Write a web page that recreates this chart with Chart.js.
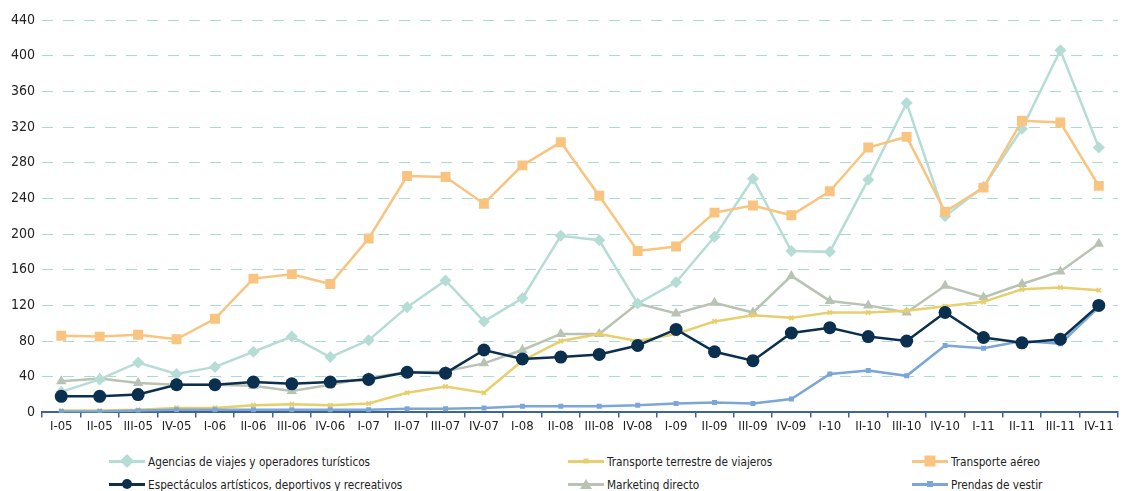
<!DOCTYPE html>
<html>
<head>
<meta charset="utf-8">
<script src="https://cdn.jsdelivr.net/npm/chart.js@4.4.0/dist/chart.umd.min.js"></script>
<style>
  body { margin: 0; background: #fff; font-family: "DejaVu Sans Condensed", sans-serif; }
  #wrap { position: relative; width: 1125px; height: 435px; }
  #legend { position: absolute; left: 0; top: 448px; width: 1125px; height: 43px; }
  .item { position: absolute; font-size: 13px; color: #222; white-space: nowrap; display: flex; align-items: center; height: 18px; }
  .item .tx { display: inline-block; transform: scaleX(0.9); transform-origin: left center; }
  .key { position: relative; width: 36px; height: 18px; margin-right: 3px; }
  .key .ln { position: absolute; left: 0; right: 0; top: 8px; height: 3px; }
  .key .mk { position: absolute; left: 50%; top: 50%; transform: translate(-50%, -50%); }
</style>
</head>
<body>
<div id="wrap"><canvas id="chart"></canvas></div>
<div id="legend"></div>
<script>
var trimestres = ["I-05","II-05","III-05","IV-05","I-06","II-06","III-06","IV-06","I-07","II-07","III-07","IV-07",
    "I-08","II-08","III-08","IV-08","I-09","II-09","III-09","IV-09","I-10","II-10","III-10","IV-10","I-11","II-11","III-11","IV-11"];

var agencias = [23, 37, 56, 43, 51, 68, 85, 62, 81, 118, 148, 102, 128, 198, 193, 122, 146, 197, 262, 181, 180, 261, 347, 220, 253, 318, 406, 297];
var terrestre = [2, 2, 3, 5, 5, 8, 9, 8, 10, 22, 29, 22, 58, 80, 88, 80, 88, 102, 109, 106, 112, 112, 114, 119, 124, 138, 140, 137];
var aereo = [86, 85, 87, 82, 105, 150, 155, 144, 195, 265, 264, 234, 277, 303, 243, 181, 186, 224, 232, 221, 248, 297, 309, 225, 252, 327, 325, 254];
var espectaculos = [18, 18, 20, 31, 31, 34, 32, 34, 37, 45, 44, 70, 60, 62, 65, 75, 93, 68, 58, 89, 95, 85, 80, 112, 84, 78, 82, 120];
var marketing = [35, 38, 33, 31, 31, 30, 24, 31, 39, 45, 46, 55, 70, 88, 88, 122, 111, 123, 112, 153, 125, 120, 112, 142, 129, 144, 158, 189];
var prendas = [1, 1, 2, 3, 3, 3, 3, 3, 3, 4, 4, 5, 7, 7, 7, 8, 10, 11, 10, 15, 43, 47, 41, 75, 72, 80, 77, 118];

var series = [
    { label: "Agencias de viajes y operadores turísticos", data: agencias, color: "#b5ddd5", point: "rectRot", r: 6, lx: 113, row: 0 },
    { label: "Transporte terrestre de viajeros", data: terrestre, color: "#e6cf6c", point: "crossRot", r: 3, lx: 572, row: 0 },
    { label: "Transporte aéreo", data: aereo, color: "#f9c47f", point: "rect", r: 7, lx: 916, row: 0 },
    { label: "Espectáculos artísticos, deportivos y recreativos", data: espectaculos, color: "#0b2f4e", point: "circle", r: 6.5, lx: 113, row: 1 },
    { label: "Marketing directo", data: marketing, color: "#b8c3b3", point: "triangle", r: 6, lx: 572, row: 1 },
    { label: "Prendas de vestir", data: prendas, color: "#7aa6d8", point: "rect", r: 3.5, lx: 916, row: 1 }
];

// draw order: later datasets on top of earlier ones (order lower = on top)
var orden = [4, 5, 2, 1, 6, 3];
var fuente = "'DejaVu Sans Condensed', 'Liberation Sans Narrow', sans-serif";

var datasets = series.map(function (s, i) {
    return {
        label: s.label,
        data: s.data,
        borderColor: s.color,
        backgroundColor: s.color,
        pointBackgroundColor: s.color,
        pointBorderColor: s.color,
        pointStyle: s.point,
        pointRadius: s.r,
        pointBorderWidth: s.point === "crossRot" ? 2 : 0,
        borderWidth: 2.5,
        tension: 0,
        order: orden[i]
    };
});

var gridColor = "#a9dbd2";
var axisColor = "#3d6495";

new Chart(document.getElementById("chart").getContext("2d"), {
    type: "line",
    data: { labels: trimestres, datasets: datasets },
    options: {
        responsive: true,
        maintainAspectRatio: false,
        animation: false,
        layout: { padding: { top: 20, right: 0, left: 4, bottom: 0 } },
        plugins: { legend: { display: false }, tooltip: { enabled: false } },
        scales: {
            x: {
                offset: true,
                grid: { display: true, drawOnChartArea: false, drawTicks: true, tickLength: 5, color: axisColor, lineWidth: 1.5, offset: true },
                border: { display: true, color: axisColor, width: 2 },
                ticks: { color: "#222", font: { family: fuente, size: 13 }, maxRotation: 0, autoSkip: false, padding: 1 }
            },
            y: {
                min: 0,
                max: 440,
                ticks: { stepSize: 40, color: "#222", font: { family: fuente, size: 14 }, padding: 7 },
                grid: { color: gridColor, lineWidth: 1, drawTicks: false },
                border: { display: false, dash: [11, 10] }
            }
        }
    }
});

// leyenda HTML en tres columnas
var legend = document.getElementById("legend");
series.forEach(function (s) {
    var it = document.createElement("div");
    it.className = "item";
    it.style.left = (s.lx - 4) + "px";
    it.style.top = (s.row * 23 + 4) + "px";
    var key = document.createElement("span");
    key.className = "key";
    var ln = document.createElement("span");
    ln.className = "ln";
    ln.style.background = s.color;
    key.appendChild(ln);
    var mk = document.createElement("span");
    mk.className = "mk";
    var sz = Math.round(s.r * 1.6);
    if (s.point === "triangle") {
        mk.style.width = "0"; mk.style.height = "0";
        mk.style.borderLeft = "6px solid transparent";
        mk.style.borderRight = "6px solid transparent";
        mk.style.borderBottom = "10px solid " + s.color;
    } else {
        mk.style.width = sz + "px"; mk.style.height = sz + "px";
        mk.style.background = s.color;
        if (s.point === "circle") mk.style.borderRadius = "50%";
        if (s.point === "rectRot") mk.style.transform = "translate(-50%, -50%) rotate(45deg)";
        if (s.point === "crossRot") { mk.style.width = "5px"; mk.style.height = "5px"; }
    }
    key.appendChild(mk);
    it.appendChild(key);
    var tx = document.createElement("span");
    tx.className = "tx";
    tx.textContent = s.label;
    it.appendChild(tx);
    legend.appendChild(it);
});
</script>
</body>
</html>
